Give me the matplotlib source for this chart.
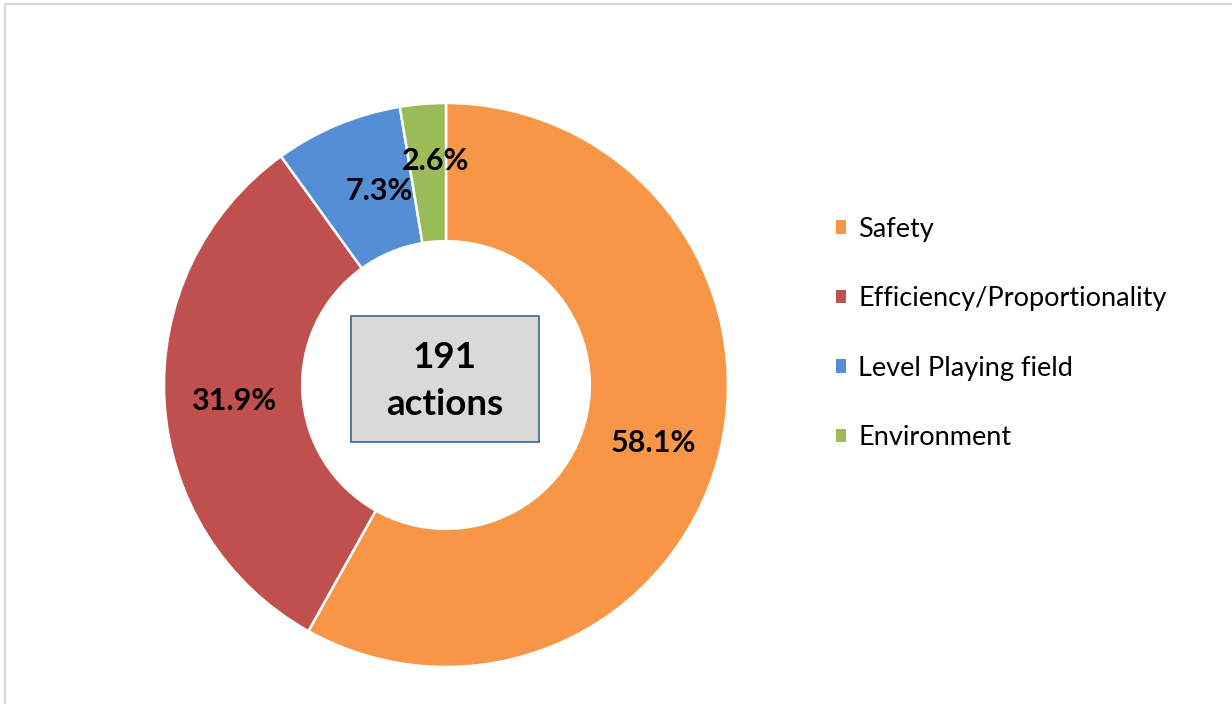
import matplotlib
matplotlib.use("Agg")
import matplotlib.pyplot as plt
from matplotlib.patches import Rectangle, Patch
import numpy as np

categories = ["Safety", "Efficiency/Proportionality", "Level Playing field", "Environment"]
counts = [111, 61, 14, 5]
total_label = "191\nactions"
colors = ["#F79646", "#C0504D", "#558ED5", "#9BBB59"]

plt.rcParams['font.family'] = ['Lato', 'DejaVu Sans']

fig = plt.figure(figsize=(12.32, 7.04), dpi=100)
# light frame
fig.patches.append(Rectangle((5/1232, -0.1), 1.2, 1 - 4/704 + 0.1, transform=fig.transFigure,
                             facecolor='none', edgecolor='#D9D9D9', linewidth=1.6))

ax = fig.add_axes([164/1232, 37/704, 564/1232, 564/704])
wedges, texts, autotexts = ax.pie(
    counts, colors=colors, startangle=90, counterclock=False,
    wedgeprops=dict(width=0.49, edgecolor='white', linewidth=1.8),
    autopct=lambda p: f"{p:.1f}%", pctdistance=0.755,
    textprops=dict(fontsize=22, fontweight='bold', color='black'))
ax.set_xlim(-1, 1)
ax.set_ylim(-1, 1)
ax.set_aspect('auto')
ax.axis('off')

# label placement tweaks (Excel-style)
for i, t in enumerate(autotexts):
    w = wedges[i]
    mid = np.deg2rad((w.theta1 + w.theta2) / 2)
    r = [0.76, 0.755, 0.74, 0.81][i]
    dang = [0, 0, -4, -2.2][i]
    a = mid + np.deg2rad(dang)
    t.set_position((r * np.cos(a), r * np.sin(a) - 0.014))

# center box
ax.add_patch(Rectangle((-0.337, -0.202), 0.667, 0.447, facecolor='#D9D9D9',
                       edgecolor='#41719C', linewidth=1.3, zorder=3))
ax.text(-0.004, 0.014, total_label, ha='center', va='center', fontsize=26.5,
        fontweight='bold', linespacing=1.5, zorder=4)

handles = [Patch(facecolor=c, edgecolor='none') for c in colors]
fig.legend(handles, categories, loc='center left', bbox_to_anchor=(836/1232, 1 - 333.5/704),
           frameon=False, fontsize=19.5, handlelength=0.37, handleheight=0.37,
           handletextpad=0.45, labelspacing=1.645, borderpad=0, borderaxespad=0)

fig.savefig("out.png", dpi=100, facecolor='white')
